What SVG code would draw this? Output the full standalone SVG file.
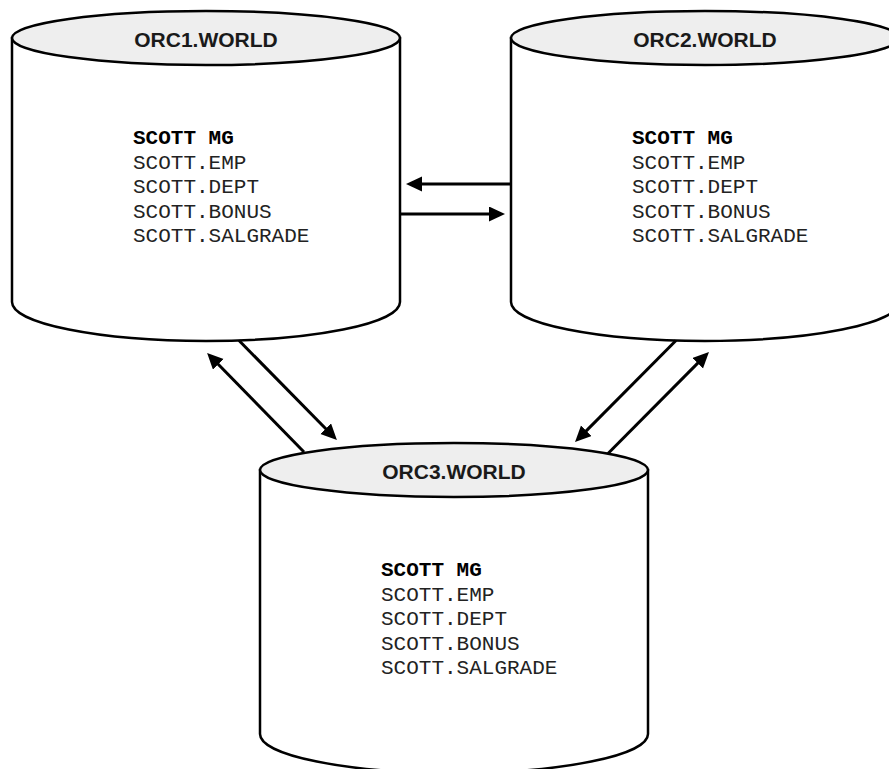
<svg xmlns="http://www.w3.org/2000/svg" width="889" height="769" viewBox="0 0 889 769">
<style>
.body{fill:#ffffff;stroke:#000;stroke-width:2.5}
.top{fill:#eeeeee;stroke:#000;stroke-width:2.5}
.title{font-family:"Liberation Sans",Arial,sans-serif;font-weight:bold;font-size:21px;fill:#1a1a1a;text-anchor:middle}
.mono{font-family:"Liberation Mono","Courier New",monospace;font-size:21px;fill:#222}
.mono .b{font-weight:bold;fill:#000}
.conn{stroke:#000;stroke-width:3;fill:none;marker-end:url(#ah)}
</style>
<defs>
<marker id="ah" markerUnits="userSpaceOnUse" markerWidth="16" markerHeight="16" refX="4" refY="7.5" orient="auto">
<path d="M0,0 L16,7.5 L0,15 z" fill="#000"/>
</marker>
</defs>
<rect width="889" height="769" fill="#fff"/>
<g id="orc1">
<path class="body" d="M12,38 L12,302 A194,39 0 0 0 400,302 L400,38 Z"/>
<ellipse class="top" cx="206" cy="38" rx="194" ry="27"/>
<text class="title" x="206" y="47">ORC1.WORLD</text>
<text class="mono"><tspan class="b" x="133" y="144">SCOTT MG</tspan><tspan x="133" y="168.5">SCOTT.EMP</tspan><tspan x="133" y="193">SCOTT.DEPT</tspan><tspan x="133" y="217.5">SCOTT.BONUS</tspan><tspan x="133" y="242">SCOTT.SALGRADE</tspan></text>
</g>
<g id="orc2">
<path class="body" d="M511,38 L511,302 A194,39 0 0 0 899,302 L899,38 Z"/>
<ellipse class="top" cx="705" cy="38" rx="194" ry="27"/>
<text class="title" x="705" y="47">ORC2.WORLD</text>
<text class="mono"><tspan class="b" x="632" y="144">SCOTT MG</tspan><tspan x="632" y="168.5">SCOTT.EMP</tspan><tspan x="632" y="193">SCOTT.DEPT</tspan><tspan x="632" y="217.5">SCOTT.BONUS</tspan><tspan x="632" y="242">SCOTT.SALGRADE</tspan></text>
</g>
<g id="orc3">
<path class="body" d="M260,470 L260,734 A194,39 0 0 0 648,734 L648,470 Z"/>
<ellipse class="top" cx="454" cy="470" rx="194" ry="27"/>
<text class="title" x="454" y="479">ORC3.WORLD</text>
<text class="mono"><tspan class="b" x="381" y="576">SCOTT MG</tspan><tspan x="381" y="600.5">SCOTT.EMP</tspan><tspan x="381" y="625">SCOTT.DEPT</tspan><tspan x="381" y="649.5">SCOTT.BONUS</tspan><tspan x="381" y="674">SCOTT.SALGRADE</tspan></text>
</g>
<g id="connectors">
<line class="conn" x1="511" y1="184" x2="418" y2="184"/>
<line class="conn" x1="400" y1="214" x2="493" y2="214"/>
<line class="conn" x1="239" y1="340.5" x2="328.5" y2="431.5"/>
<line class="conn" x1="304" y1="452" x2="215.5" y2="361.5"/>
<line class="conn" x1="676" y1="340.5" x2="583.5" y2="433.6"/>
<line class="conn" x1="608" y1="453.5" x2="700.5" y2="360.4"/>
</g>
</svg>
